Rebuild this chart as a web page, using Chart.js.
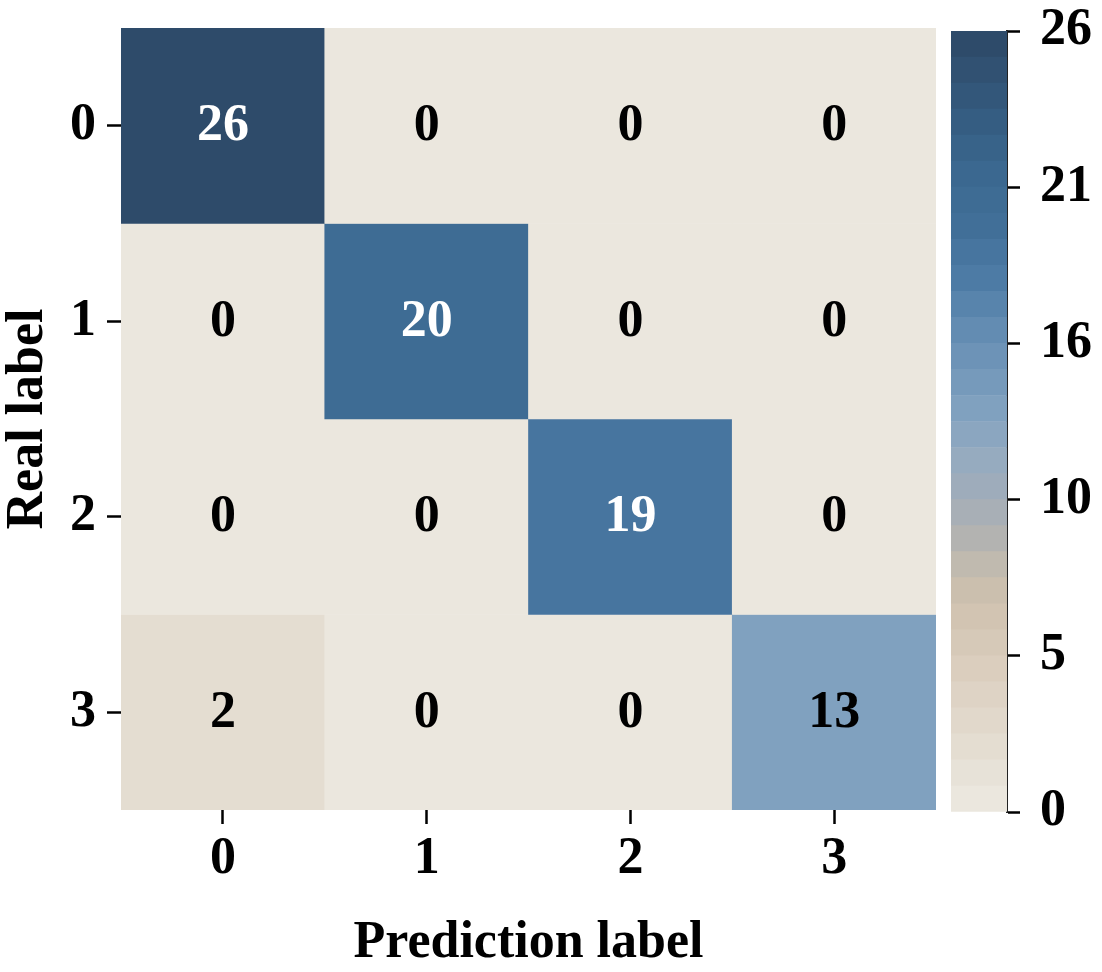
<!DOCTYPE html>
<html>
<head>
<meta charset="utf-8">
<title>Confusion matrix</title>
<script src="https://cdn.jsdelivr.net/npm/chart.js@4.4.1/dist/chart.umd.min.js"></script>
<style>
  html, body { margin: 0; padding: 0; background: #fff; }
  #wrap { position: relative; width: 1102px; height: 972px; }
  #matrix { position: absolute; left: 0; top: 0; }
  #colorbar { position: absolute; left: 940px; top: 0; }
</style>
</head>
<body>
<div id="wrap">
  <canvas id="matrix" width="940" height="972"></canvas>
  <canvas id="colorbar" width="162" height="972"></canvas>
</div>
<script>
// ---- data ----
const predLabels = ['0', '1', '2', '3'];
const realLabels = ['0', '1', '2', '3'];
const row0 = [26, 0, 0, 0];
const row1 = [0, 20, 0, 0];
const row2 = [0, 0, 19, 0];
const row3 = [2, 0, 0, 13];
const rows = [row0, row1, row2, row3];

const cbMin = 0;
const cbMax = 26;
const cbLevels = 30;
const cbTickValues = [0, 5.2, 10.4, 15.6, 20.8, 26];
const cbTickLabels = ['0', '5', '10', '16', '21', '26'];

// ---- colour map (beige -> tan -> grey -> blue -> navy) ----
const cmapStops = [
    [0.00, '#ede9e1'],
    [0.08, '#e4ddd2'],
    [0.19, '#dacdbd'],
    [0.27, '#cfc1ae'],
    [0.31, '#c3bbae'],
    [0.35, '#b3b3b1'],
    [0.40, '#a2adb9'],
    [0.46, '#93aac0'],
    [0.52, '#7fa0bf'],
    [0.60, '#6890b5'],
    [0.68, '#4e7ca6'],
    [0.75, '#416f98'],
    [0.82, '#3b6890'],
    [0.90, '#345a7e'],
    [1.00, '#2d4866']
];

function hexToRgb(h) {
    return [parseInt(h.substr(1, 2), 16), parseInt(h.substr(3, 2), 16), parseInt(h.substr(5, 2), 16)];
}

function cmap(t) {
    for (let i = 1; i < cmapStops.length; i++) {
        if (t <= cmapStops[i][0]) {
            const [t0, c0] = cmapStops[i - 1];
            const [t1, c1] = cmapStops[i];
            const f = (t - t0) / (t1 - t0);
            const a = hexToRgb(c0), b = hexToRgb(c1);
            const c = a.map((v, k) => Math.round(v + (b[k] - v) * f));
            return `rgb(${c[0]}, ${c[1]}, ${c[2]})`;
        }
    }
    return cmapStops[cmapStops.length - 1][1];
}

// discrete level colour, same as the colour bar bands
function levelColor(k) {
    return cmap((k + 0.5) / cbLevels);
}

function valueColor(v) {
    let k = Math.floor((v - cbMin) / (cbMax - cbMin) * cbLevels);
    k = Math.max(0, Math.min(cbLevels - 1, k));
    return levelColor(k);
}

const serif = '"Liberation Serif", "Times New Roman", serif';
const tickFont = { family: serif, size: 52, weight: 'bold', lineHeight: 1.15 };
const titleFont = { family: serif, size: 52, weight: 'bold', lineHeight: 1.1 };

// keep the end labels from pushing the plot area inwards
function noEdgePadding(scale) {
    scale.paddingTop = 0;
    scale.paddingBottom = 0;
    scale.paddingLeft = 0;
    scale.paddingRight = 0;
}

// ---- cell values written on top of each cell ----
const cellText = {
    id: 'cellText',
    afterDatasetsDraw(chart) {
        const ctx = chart.ctx;
        ctx.save();
        ctx.font = `bold 52px ${serif}`;
        ctx.textAlign = 'center';
        ctx.textBaseline = 'middle';
        chart.data.datasets.forEach((ds, r) => {
            const meta = chart.getDatasetMeta(r);
            meta.data.forEach((el, i) => {
                const v = rows[r][i];
                ctx.fillStyle = v > 15 ? '#ffffff' : '#000000';
                ctx.fillText(String(v), el.x, (el.y + el.base) / 2 + 1);
            });
        });
        ctx.restore();
    }
};

// ---- heatmap: one floating bar per cell ----
const matrixDatasets = rows.map((vals, r) => ({
    label: 'Real ' + realLabels[r],
    data: vals.map(() => [r, r + 1]),
    backgroundColor: vals.map(valueColor),
    borderWidth: 0,
    barPercentage: 1,
    categoryPercentage: 1,
    grouped: false
}));

new Chart(document.getElementById('matrix'), {
    type: 'bar',
    data: { labels: predLabels, datasets: matrixDatasets },
    options: {
        responsive: false,
        animation: false,
        layout: { padding: { left: 0, right: 4, top: 28, bottom: 0 } },
        plugins: { legend: { display: false }, tooltip: { enabled: false } },
        scales: {
            x: {
                type: 'category',
                border: { display: false },
                grid: {
                    offset: false,
                    drawOnChartArea: false,
                    drawTicks: true,
                    tickLength: 14,
                    tickWidth: 2.5,
                    tickColor: '#000'
                },
                ticks: { color: '#000', font: tickFont, padding: 6, maxRotation: 0 },
                title: {
                    display: true,
                    text: 'Prediction label',
                    color: '#000',
                    font: titleFont,
                    padding: 0
                },
                afterFit(scale) {
                    scale.height = 162;
                    noEdgePadding(scale);
                }
            },
            y: {
                type: 'linear',
                min: 0,
                max: 4,
                reverse: true,
                border: { display: false },
                grid: {
                    drawOnChartArea: false,
                    drawTicks: true,
                    tickLength: 14,
                    tickWidth: 2.5,
                    tickColor: '#000'
                },
                afterBuildTicks(scale) {
                    scale.ticks = realLabels.map((_, i) => ({ value: i + 0.5 }));
                },
                ticks: {
                    color: '#000',
                    font: tickFont,
                    padding: 11,
                    autoSkip: false,
                    callback: (value, index) => realLabels[index]
                },
                title: {
                    display: true,
                    text: 'Real label',
                    color: '#000',
                    font: titleFont,
                    padding: 0
                },
                afterFit(scale) {
                    scale.width = 121;
                    noEdgePadding(scale);
                }
            }
        }
    },
    plugins: [cellText]
});

// ---- colour bar: stacked bands on a 0..26 scale ----
const bandDatasets = [];
for (let k = 0; k < cbLevels; k++) {
    const lo = cbMin + (cbMax - cbMin) * k / cbLevels;
    const hi = cbMin + (cbMax - cbMin) * (k + 1) / cbLevels;
    bandDatasets.push({
        data: [[lo, hi]],
        backgroundColor: levelColor(k),
        borderWidth: 0,
        barPercentage: 1,
        categoryPercentage: 1,
        grouped: false
    });
}

new Chart(document.getElementById('colorbar'), {
    type: 'bar',
    data: { labels: ['count'], datasets: bandDatasets },
    options: {
        responsive: false,
        animation: false,
        layout: { padding: { left: 11, right: 0, top: 31, bottom: 160 } },
        plugins: { legend: { display: false }, tooltip: { enabled: false } },
        scales: {
            x: { display: false },
            y: {
                type: 'linear',
                position: 'right',
                min: cbMin,
                max: cbMax,
                border: { display: true, color: '#222', width: 2 },
                grid: {
                    drawOnChartArea: false,
                    drawTicks: true,
                    tickLength: 13,
                    tickWidth: 2.5,
                    tickColor: '#000'
                },
                afterBuildTicks(scale) {
                    scale.ticks = cbTickValues.map(v => ({ value: v }));
                },
                ticks: {
                    color: '#000',
                    font: tickFont,
                    padding: 20,
                    autoSkip: false,
                    callback: (value, index) => cbTickLabels[index]
                },
                afterFit(scale) {
                    scale.width = 95;
                    noEdgePadding(scale);
                }
            }
        }
    }
});
</script>
</body>
</html>
